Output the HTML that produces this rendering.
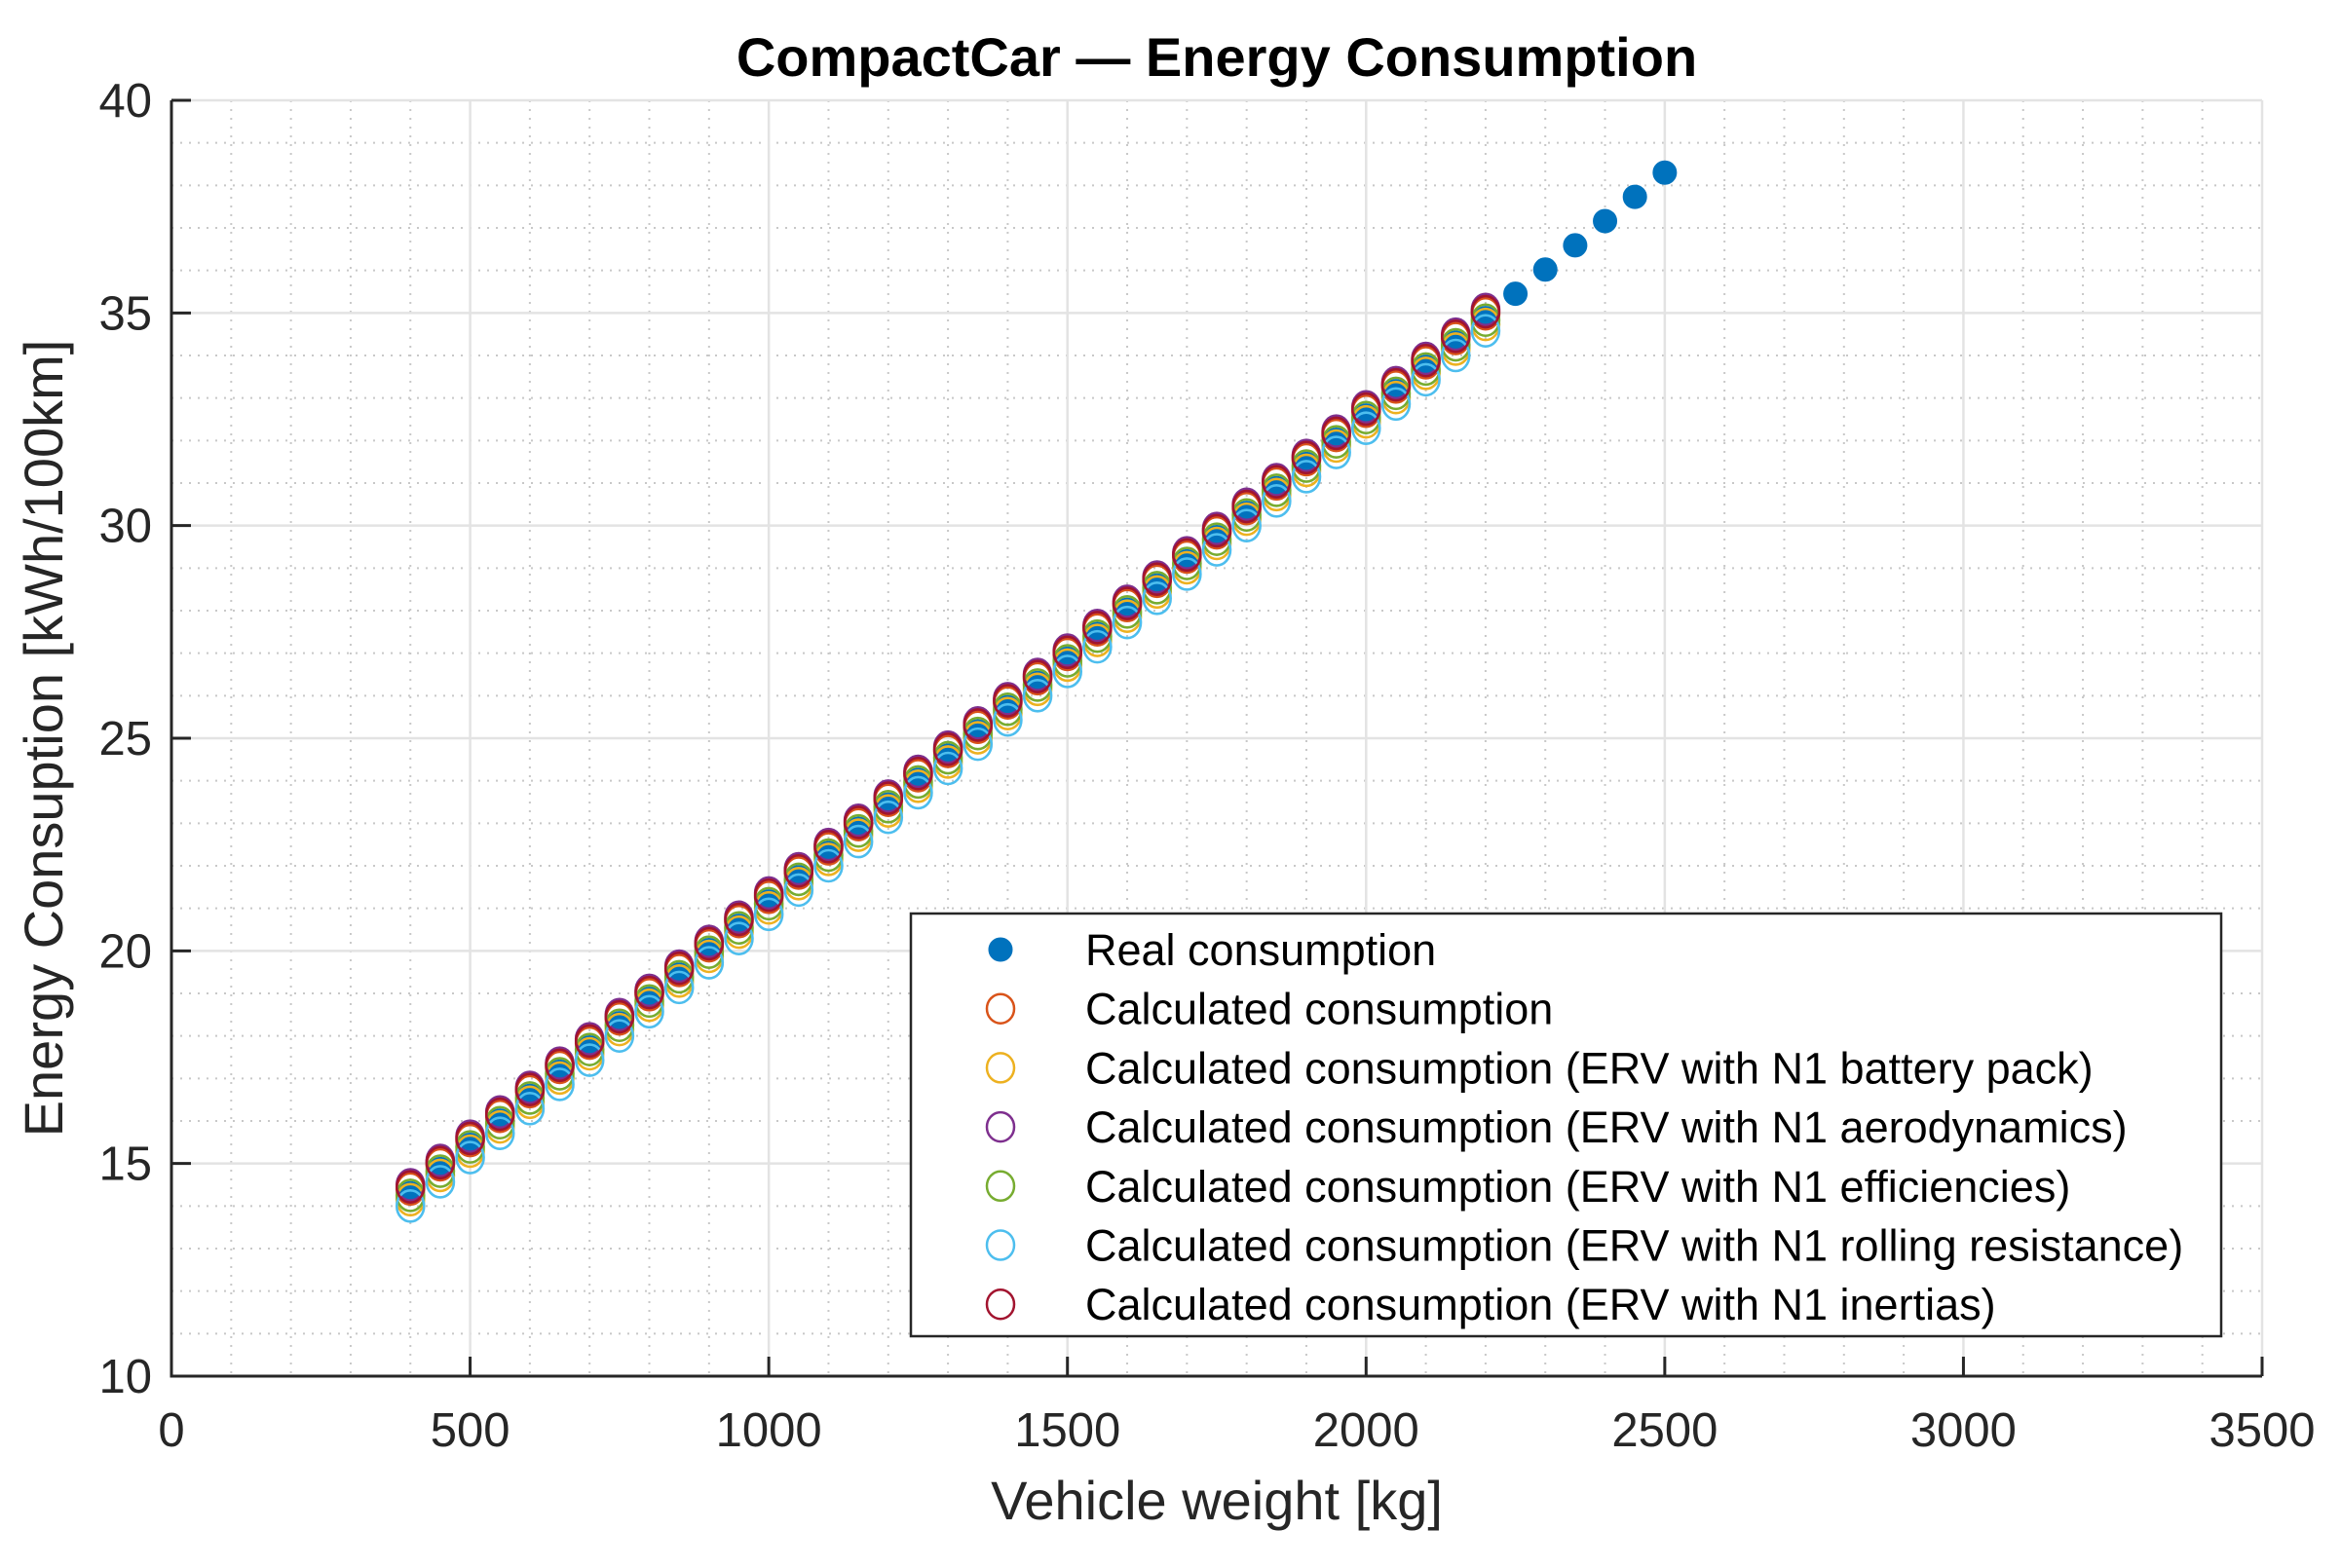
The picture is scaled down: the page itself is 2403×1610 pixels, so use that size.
<!DOCTYPE html>
<html><head><meta charset="utf-8"><style>
html,body{margin:0;padding:0;background:#fff;}
svg{display:block;font-family:"Liberation Sans",Arial,sans-serif;}
</style></head><body>
<svg id="chart" width="2403" height="1610" viewBox="0 0 2403 1610" xmlns="http://www.w3.org/2000/svg">
<rect width="2403" height="1610" fill="#fff"/>
<g id="grid"></g>
<g id="axes"></g>
<g id="marks"></g>
<text x="1249" y="78" text-anchor="middle" font-size="56" font-weight="bold" fill="#000">CompactCar — Energy Consumption</text>
<text x="1249" y="1560" text-anchor="middle" font-size="56" fill="#262626">Vehicle weight [kg]</text>
<text transform="translate(64,758) rotate(-90)" text-anchor="middle" font-size="56" fill="#262626">Energy Consuption [kWh/100km]</text>
<g id="legend"></g>
</svg>
<script>
const xTicks = [0,500,1000,1500,2000,2500,3000,3500];
const yTicks = [10,15,20,25,30,35,40];
const realX = [400,450,500,550,600,650,700,750,800,850,900,950,1000,1050,1100,1150,1200,1250,1300,1350,1400,1450,1500,1550,1600,1650,1700,1750,1800,1850,1900,1950,2000,2050,2100,2150,2200,2250,2300,2350,2400,2450,2500];
const realY = [14.30,14.87,15.44,16.01,16.59,17.16,17.73,18.30,18.87,19.44,20.02,20.59,21.16,21.73,22.30,22.87,23.44,24.02,24.59,25.16,25.73,26.30,26.87,27.45,28.02,28.59,29.16,29.73,30.30,30.88,31.45,32.02,32.59,33.16,33.73,34.30,34.88,35.45,36.02,36.59,37.16,37.73,38.30];
const calcX = [400,450,500,550,600,650,700,750,800,850,900,950,1000,1050,1100,1150,1200,1250,1300,1350,1400,1450,1500,1550,1600,1650,1700,1750,1800,1850,1900,1950,2000,2050,2100,2150,2200];
const calcY = [14.40,14.97,15.54,16.11,16.69,17.26,17.83,18.40,18.97,19.54,20.12,20.69,21.26,21.83,22.40,22.97,23.54,24.12,24.69,25.26,25.83,26.40,26.97,27.55,28.12,28.69,29.26,29.83,30.40,30.98,31.55,32.12,32.69,33.26,33.83,34.40,34.98];
const batteryY = [14.15,14.72,15.29,15.86,16.44,17.01,17.58,18.15,18.72,19.29,19.87,20.44,21.01,21.58,22.15,22.72,23.29,23.87,24.44,25.01,25.58,26.15,26.72,27.30,27.87,28.44,29.01,29.58,30.15,30.73,31.30,31.87,32.44,33.01,33.58,34.15,34.73];
const aeroY = [14.50,15.07,15.64,16.21,16.79,17.36,17.93,18.50,19.07,19.64,20.22,20.79,21.36,21.93,22.50,23.07,23.64,24.22,24.79,25.36,25.93,26.50,27.07,27.65,28.22,28.79,29.36,29.93,30.50,31.08,31.65,32.22,32.79,33.36,33.93,34.50,35.08];
const effY = [14.25,14.82,15.39,15.96,16.54,17.11,17.68,18.25,18.82,19.39,19.97,20.54,21.11,21.68,22.25,22.82,23.39,23.97,24.54,25.11,25.68,26.25,26.82,27.40,27.97,28.54,29.11,29.68,30.25,30.83,31.40,31.97,32.54,33.11,33.68,34.25,34.83];
const rollY = [14.00,14.57,15.14,15.71,16.29,16.86,17.43,18.00,18.57,19.14,19.72,20.29,20.86,21.43,22.00,22.57,23.14,23.72,24.29,24.86,25.43,26.00,26.57,27.15,27.72,28.29,28.86,29.43,30.00,30.58,31.15,31.72,32.29,32.86,33.43,34.00,34.58];
const inertY = [14.45,15.02,15.59,16.16,16.74,17.31,17.88,18.45,19.02,19.59,20.17,20.74,21.31,21.88,22.45,23.02,23.59,24.17,24.74,25.31,25.88,26.45,27.02,27.60,28.17,28.74,29.31,29.88,30.45,31.03,31.60,32.17,32.74,33.31,33.88,34.45,35.03];
const legendLabels = ["Real consumption","Calculated consumption","Calculated consumption (ERV with N1 battery pack)","Calculated consumption (ERV with N1 aerodynamics)","Calculated consumption (ERV with N1 efficiencies)","Calculated consumption (ERV with N1 rolling resistance)","Calculated consumption (ERV with N1 inertias)"];

const NS="http://www.w3.org/2000/svg";
const L=176,R=2322,T=103,B=1413;
const X0=0,X1=3500,Y0=10,Y1=40;
const sx=v=>L+(v-X0)/(X1-X0)*(R-L);
const sy=v=>B-(v-Y0)/(Y1-Y0)*(B-T);
function mk(tag,parent,attrs){const e=document.createElementNS(NS,tag);for(const k in attrs)e.setAttribute(k,attrs[k]);parent.appendChild(e);return e;}
const grid=document.getElementById('grid'),axes=document.getElementById('axes'),marks=document.getElementById('marks'),legend=document.getElementById('legend');

for(let v=X0+100;v<X1;v+=100){if(v%500===0)continue;
 const l=mk('line',grid,{x1:sx(v),x2:sx(v),y1:T,y2:B,stroke:'#c8c8c8','stroke-width':2,'stroke-dasharray':'2 7'});
 
 }
for(let v=Y0+1;v<Y1;v+=1){if(v%5===0)continue;
 const l=mk('line',grid,{x1:L,x2:R,y1:sy(v),y2:sy(v),stroke:'#c8c8c8','stroke-width':2,'stroke-dasharray':'2 7'});
 
 }
xTicks.forEach(v=>{
 const l=mk('line',grid,{x1:sx(v),x2:sx(v),y1:T,y2:B,stroke:'#e3e3e3','stroke-width':2.5});
 
 
 const t=mk('line',axes,{x1:sx(v),x2:sx(v),y1:B,y2:B-20,stroke:'#262626','stroke-width':3});
 
 
 const tx=mk('text',axes,{x:sx(v),y:B+72,'text-anchor':'middle','font-size':49,fill:'#262626'});
 tx.textContent=v;
 
 
});
yTicks.forEach(v=>{
 const l=mk('line',grid,{x1:L,x2:R,y1:sy(v),y2:sy(v),stroke:'#e3e3e3','stroke-width':2.5});
 
 
 const t=mk('line',axes,{x1:L,x2:L+20,y1:sy(v),y2:sy(v),stroke:'#262626','stroke-width':3});
 
 
 const tx=mk('text',axes,{x:L-20,y:sy(v)+17,'text-anchor':'end','font-size':49,fill:'#262626'});
 tx.textContent=v;
 
 
});
const ax1=mk('line',axes,{x1:L,x2:L,y1:T,y2:B+1.5,stroke:'#262626','stroke-width':3});


const ax2=mk('line',axes,{x1:L,x2:R,y1:B,y2:B,stroke:'#262626','stroke-width':3});



const series=[
 {name:'real',xs:realX,ys:realY,color:'#0072BD',fill:true},
 {name:'calculated',xs:calcX,ys:calcY,color:'#D95319'},
 {name:'battery-pack',xs:calcX,ys:batteryY,color:'#EDB120'},
 {name:'aerodynamics',xs:calcX,ys:aeroY,color:'#7E2F8E'},
 {name:'efficiencies',xs:calcX,ys:effY,color:'#77AC30'},
 {name:'rolling-resistance',xs:calcX,ys:rollY,color:'#4DBEEE'},
 {name:'inertias',xs:calcX,ys:inertY,color:'#A2142F'}
];
series.forEach(s=>{
 const g=mk('g',marks,{});
 
 
 s.xs.forEach((xv,i)=>{
  const c=mk('ellipse',g,{cx:sx(xv),cy:sy(s.ys[i]),rx:s.fill?12:14,ry:s.fill?12:16,fill:s.fill?s.color:'none',stroke:s.color,'stroke-width':s.fill?1:2.6});
  
  
 });
});

const lb=mk('rect',legend,{x:935,y:938,width:1345,height:434,fill:'#fff',stroke:'#262626','stroke-width':2.5});


legendLabels.forEach((lab,i)=>{
 const y=975+i*60.7;
 const s=series[i];
 const g=mk('g',legend,{});
 
 
 mk('ellipse',g,{cx:1027,cy:y,rx:s.fill?12:14,ry:s.fill?12:15,fill:s.fill?s.color:'none',stroke:s.color,'stroke-width':s.fill?1:2.5});
 const t=mk('text',g,{x:1114,y:y+16,'font-size':45,fill:'#000'});
 t.textContent=lab;
});
</script>
</body></html>
